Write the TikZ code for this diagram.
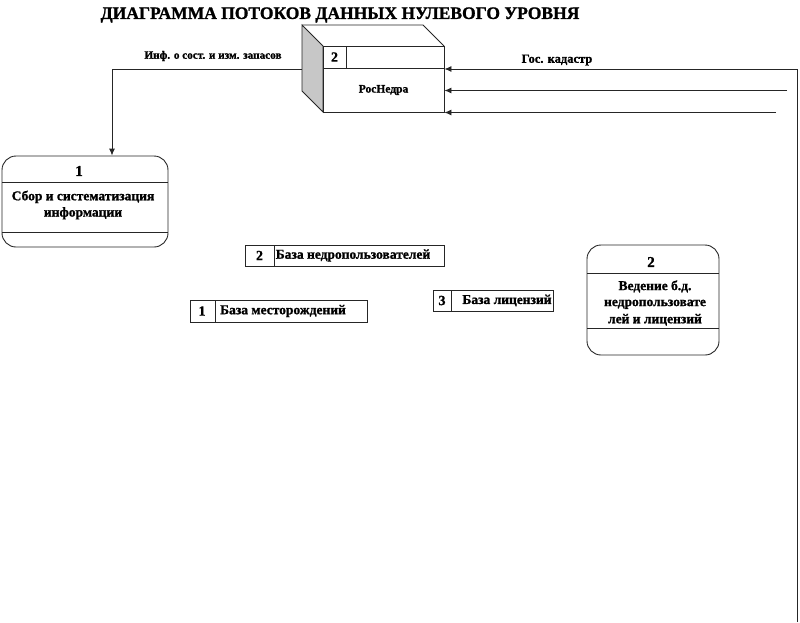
\documentclass[tikz,border=0pt]{standalone}
\usepackage{fontspec}
\setmainfont{Liberation Serif}[BoldFeatures={FakeBold=1.2}]
\usetikzlibrary{arrows.meta}
\tikzset{
  ln/.style={draw=black!85, line width=0.9pt},
  arr/.style={ln, -{Latex[length=7pt,width=6pt]}},
  proc/.style={draw=black!85, line width=0.9pt, rounded corners=14pt, inner sep=0pt},
  storebox/.style={draw=black!85, line width=0.9pt, inner sep=0pt},
  txt/.style={inner sep=0pt, font=\bfseries},
}
\newcommand{\fs}[1]{\fontsize{#1}{#1}\selectfont}
\begin{document}
\begin{tikzpicture}[x=1pt,y=-1pt]
\useasboundingbox (0,0) rectangle (800,622);
% title
\node[txt] (title) at (340,15) {\fs{17.5}ДИАГРАММА ПОТОКОВ ДАННЫХ НУЛЕВОГО УРОВНЯ};
% 3D box RosNedra
\coordinate (bA) at (302,25);
\coordinate (bB) at (423,25);
\coordinate (bL) at (302,91);
\filldraw[ln, fill=black!22] (bA) -- (323,46) -- (323,112) -- (bL) -- cycle;
\draw[ln] (bA) -- (bB) -- (444,46);
\node[storebox, minimum width=121pt, minimum height=66pt, fill=white] (rn) at (383.5,79) {};
\coordinate (rnh) at (323,68);
\draw[ln] (rnh) -- (rnh -| rn.east);
\coordinate (rnd) at (346,46);
\draw[ln] (rnd) -- (rnd |- rnh);
\node[txt] (rnnum) at (334.5,57) {\fs{14}2};
\node[txt] (rnname) at (383.5,90) {\fs{11.5}РосНедра};
% process 1
\node[proc, minimum width=166pt, minimum height=91pt] (p1) at (85,201.5) {};
\coordinate (p1h) at (2,182);
\coordinate (p1f) at (2,232);
\draw[ln] (p1h) -- (p1h -| p1.east);
\draw[ln] (p1f) -- (p1f -| p1.east);
\node[txt] (p1num) at (79,171) {\fs{15}1};
\node[txt, align=center] (p1txt) at (83,205) {\fs{13.5}Сбор и систематизация\\[3pt]\fs{13.5}информации};
% process 2
\node[proc, minimum width=132pt, minimum height=110pt] (p2) at (653,300) {};
\coordinate (p2h) at (587,273);
\coordinate (p2f) at (587,328);
\draw[ln] (p2h) -- (p2h -| p2.east);
\draw[ln] (p2f) -- (p2f -| p2.east);
\node[txt] (p2num) at (651,262) {\fs{15}2};
\node[txt, align=center] (p2txt) at (655,303) {\fs{13.5}Ведение б.д.\\[4pt]\fs{13.5}недропользовате\\[4pt]\fs{13.5}лей и лицензий};
% data stores
\node[storebox, minimum width=199pt, minimum height=21pt] (d2) at (344.5,255.5) {};
\coordinate (d2v) at (274,245);
\draw[ln] (d2v) -- (d2v |- d2.south);
\node[txt] (d2num) at (259.5,255.5) {\fs{14}2};
\node[txt] (d2txt) at (353,255.5) {\fs{13.5}База недропользователей};
\node[storebox, minimum width=120pt, minimum height=21pt] (d3) at (493,300.5) {};
\coordinate (d3v) at (451,290);
\draw[ln] (d3v) -- (d3v |- d3.south);
\node[txt] (d3num) at (442,300.5) {\fs{14}3};
\node[txt] (d3txt) at (507,300.5) {\fs{13.5}База лицензий};
\node[storebox, minimum width=177pt, minimum height=22pt] (d1) at (278.5,311) {};
\coordinate (d1v) at (215,300);
\draw[ln] (d1v) -- (d1v |- d1.south);
\node[txt] (d1num) at (202,311) {\fs{14}1};
\node[txt] (d1txt) at (283,311) {\fs{13.5}База месторождений};
% flows
\coordinate (lstart) at (302,69);
\coordinate (lcorner) at (112,69);
\draw[arr] (lstart) -- (lcorner) -- (lcorner |- p1.north);
\node[txt] (linf) at (213,56) {\fs{11.2}Инф. о сост. и изм. запасов};
\coordinate (rbot) at (797,622);
\coordinate (rtop) at (797,69);
\draw[arr] (rbot) -- (rtop) -- (rtop -| rn.east);
\node[txt] (lkad) at (557,60) {\fs{12.5}Гос. кадастр};
\coordinate (s2) at (787,90.5);
\draw[arr] (s2) -- (s2 -| rn.east);
\coordinate (s3) at (776,112.5);
\draw[arr] (s3) -- (s3 -| rn.east);
\end{tikzpicture}
\end{document}
